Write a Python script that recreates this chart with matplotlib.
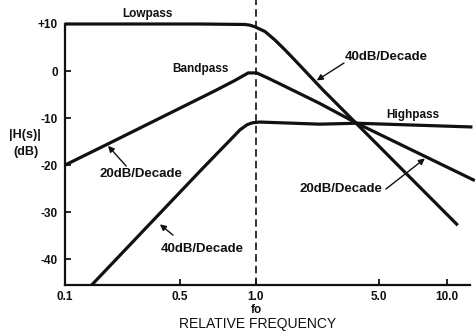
import matplotlib
matplotlib.use("Agg")
import matplotlib.pyplot as plt
from matplotlib.ticker import NullLocator

plt.rcParams['font.family'] = ['Liberation Sans', 'DejaVu Sans']

# values (relative frequency, dB)
lowpass_f = [0.1, 0.5, 0.876, 0.93, 0.988, 1.115, 1.257, 1.419, 1.6, 2.24, 11.4]
lowpass_db = [10, 10, 9.9, 9.75, 9.4, 8.4, 6.6, 4.5, 2.3, -4.0, -32.8]

bandpass_f = [0.1, 0.166, 0.61, 0.776, 0.911, 1.008, 1.156, 1.6, 2.16, 3.37, 14.0]
bandpass_db = [-20, -15.6, -4.2, -2.0, -0.4, -0.4, -1.5, -4.3, -6.9, -11.1, -23.3]

highpass_f = [0.138, 0.509, 0.648, 0.72, 0.825, 0.9, 0.96, 1.05, 2.16, 3.38, 13.6]
highpass_db = [-45.5, -21.3, -16.9, -15.0, -12.5, -11.4, -11.0, -10.85, -11.3, -11.1, -11.9]

# tick marks as placed in the original drawing
xtick_pos = [0.1, 0.4, 1.0, 4.4, 10.0]
xtick_labels = ['0.1', '0.5', '1.0', '5.0', '10.0']
ytick_pos = [10, 0, -10, -20, -30, -40]
ytick_labels = ['+10', '0', '-10', '-20', '-30', '-40']

ink = '#111111'

fig = plt.figure(figsize=(4.76, 3.33), dpi=100)
ax = fig.add_axes([65 / 476, 48 / 333, 411 / 476, 261 / 333])
ax.set_xscale('log')
ax.set_xlim(0.1, 14.2)
ax.set_ylim(-45.5, 10)

for f, db in [(lowpass_f, lowpass_db), (bandpass_f, bandpass_db), (highpass_f, highpass_db)]:
    ax.plot(f, db, color=ink, lw=2.3, solid_capstyle='butt', solid_joinstyle='round', clip_on=False)

# fo marker
ax.plot([1.0, 1.0], [-45.5, 15.2], color=ink, lw=1.2, dashes=(4.5, 2.5), clip_on=False)

# spines / ticks
for s in ['top', 'right']:
    ax.spines[s].set_visible(False)
for s in ['left', 'bottom']:
    ax.spines[s].set_linewidth(1.6)
    ax.spines[s].set_color(ink)
ax.spines['bottom'].set_bounds(0.1, 13.2)
ax.spines['left'].set_bounds(-45.5, 10)

ax.set_xticks(xtick_pos)
ax.set_xticklabels(xtick_labels, fontweight='bold')
ax.xaxis.set_minor_locator(NullLocator())
ax.set_yticks(ytick_pos)
ax.set_yticklabels(ytick_labels, fontweight='bold')
ax.tick_params(direction='in', length=4.5, width=1.3, color=ink, labelsize=8.5,
               labelcolor=ink, pad=4)
ax.tick_params(axis='y', pad=5)

# curve labels
txt = dict(fontsize=8.5, color=ink, ha='center', va='center', fontweight='bold')
slope = dict(txt, fontsize=9.5)
ax.text(0.269, 12.1, 'Lowpass', **txt)
ax.text(0.509, 0.4, 'Bandpass', **txt)
ax.text(6.64, -9.4, 'Highpass', **txt)
ax.text(4.79, 3.0, '40dB/Decade', **slope)
ax.text(2.79, -25.1, '20dB/Decade', **slope)
ax.text(0.25, -21.9, '20dB/Decade', **slope)
ax.text(0.522, -37.9, '40dB/Decade', **slope)

arrow = dict(arrowstyle='-|>', color=ink, lw=1.0, mutation_scale=9, shrinkA=0, shrinkB=0)
ax.annotate('', xy=(2.08, -2.0), xytext=(2.89, 1.7), arrowprops=arrow)
ax.annotate('', xy=(0.168, -15.9), xytext=(0.209, -20.2), arrowprops=arrow)
ax.annotate('', xy=(0.314, -32.6), xytext=(0.368, -34.9), arrowprops=arrow)
ax.annotate('', xy=(7.67, -18.6), xytext=(4.79, -25.1), arrowprops=arrow)

# axis titles
fig.text(25 / 476, 1 - 135 / 333, '|H(s)|', fontsize=9, color=ink, ha='center', va='center', fontweight='bold')
fig.text(26 / 476, 1 - 152 / 333, '(dB)', fontsize=9, color=ink, ha='center', va='center', fontweight='bold')
fig.text(256 / 476, 1 - 310 / 333, 'fo', fontsize=8.5, color=ink, ha='center', va='center', fontweight='bold')
fig.text(258 / 476, 1 - 324 / 333, 'RELATIVE FREQUENCY', fontsize=10, color=ink, ha='center', va='center')

fig.savefig('out.png', dpi=100)
